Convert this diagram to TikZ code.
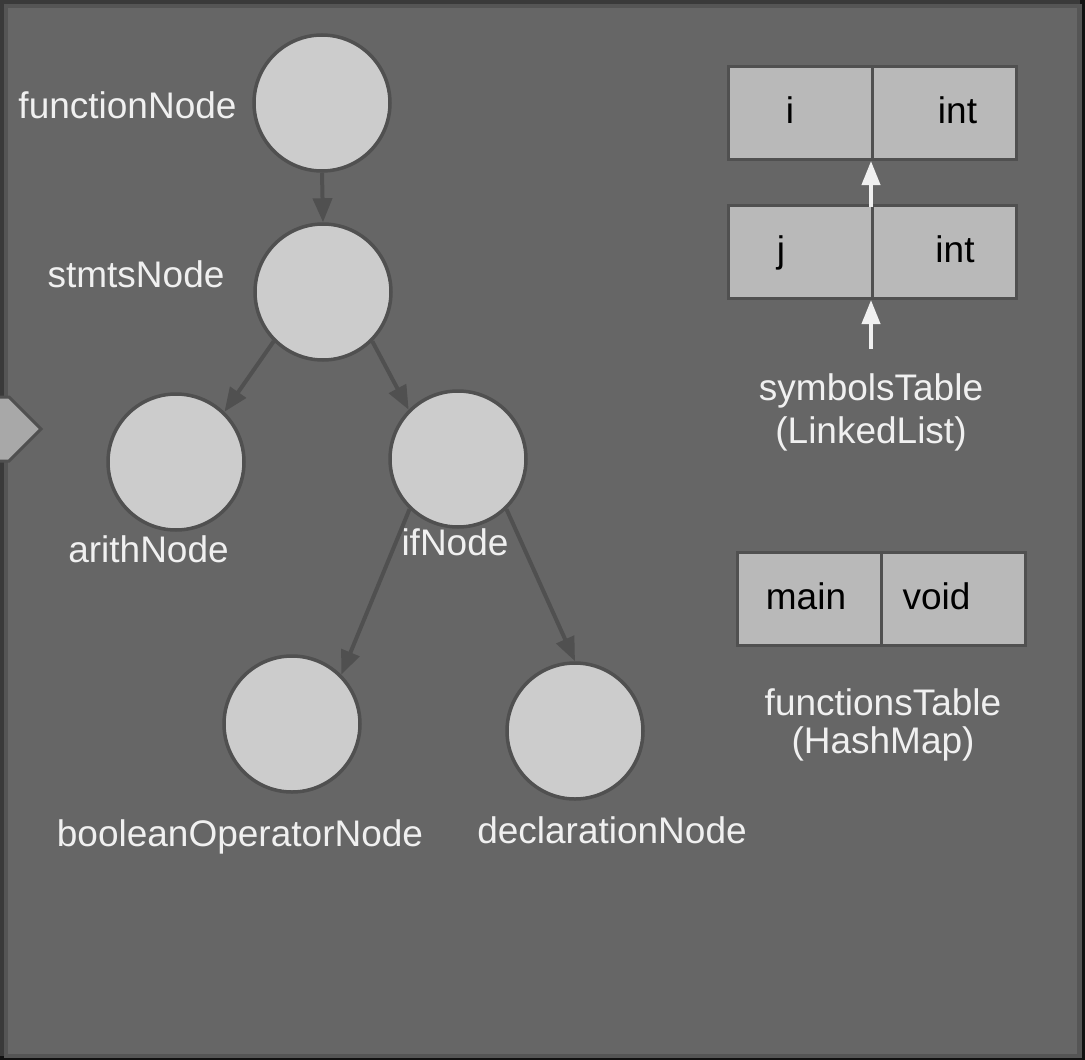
\documentclass[tikz,border=0pt]{standalone}
\usepackage{fontspec}
\setmainfont{Liberation Sans}
\usetikzlibrary{arrows.meta}

\definecolor{frameDark}{HTML}{3A3A3A}
\definecolor{frameMid}{HTML}{555555}
\definecolor{frameEdge}{HTML}{111111}
\definecolor{panelGray}{HTML}{666666}
\definecolor{edgeGray}{HTML}{505050}
\definecolor{nodeFill}{HTML}{CCCCCC}
\definecolor{cellFill}{HTML}{B9B9B9}
\definecolor{tabFill}{HTML}{A8A8A8}
\definecolor{labelWhite}{HTML}{F0F0F0}

\begin{document}
\begin{tikzpicture}[x=1pt,y=-1pt,
  txt/.style={font=\fontsize{37}{44}\selectfont, anchor=base, inner sep=0pt},
  lbl/.style={txt, text=labelWhite},
  cellTxt/.style={txt, text=black},
  treeNode/.style={circle, draw=edgeGray, line width=3.5pt, fill=nodeFill,
    minimum size=136pt, inner sep=0pt},
  cell/.style={rectangle, draw=edgeGray, line width=3pt, fill=cellFill,
    minimum width=144pt, minimum height=93pt, inner sep=0pt, anchor=north west},
  treeArrow/.style={draw=edgeGray, line width=4pt,
    -{Triangle[length=24pt,width=19pt]}},
  listArrow/.style={draw=labelWhite, line width=4pt,
    -{Triangle[length=24pt,width=18pt]}}]

  % frame and panel
  \useasboundingbox (0,0) rectangle (1085,1060);
  \fill[frameDark] (0,0) rectangle (1085,1060);
  \fill[frameEdge] (1080,0) rectangle (1085,1060);
  \fill[frameEdge] (0,1056) rectangle (1085,1060);
  \fill[frameMid] (4,4) rectangle (1082,1058);
  \fill[panelGray] (8,8) rectangle (1077,1054);

  % side tab
  \filldraw[fill=tabFill, draw=edgeGray, line width=3pt]
    (-3,397) -- (9,397) -- (41,429) -- (9,461) -- (-3,461) -- cycle;

  % tree nodes
  \node[treeNode] (fn)   at (322,103) {};
  \node[treeNode] (st)   at (323,292) {};
  \node[treeNode] (ar)   at (176,462) {};
  \node[treeNode] (ifn)  at (458,459) {};
  \node[treeNode] (bo)   at (292,724) {};
  \node[treeNode] (de)   at (575,731) {};

  % tree labels
  \node[lbl] (fnL) at (127.5,118) {functionNode};
  \node[lbl] (stL) at (136,287) {stmtsNode};
  \node[lbl] (arL) at (148.5,562) {arithNode};
  \node[lbl] (ifL) at (455,555) {ifNode};
  \node[lbl] (boL) at (240,846) {booleanOperatorNode};
  \node[lbl] (deL) at (612,843) {declarationNode};

  % tree edges
  \draw[treeArrow] (fn.south) -- (st.north);
  \draw[treeArrow] (st.225) -- (ar.46);
  \draw[treeArrow] (st.315) -- (ifn.135);
  \draw[treeArrow] (ifn.226) -- (bo.45);
  \draw[treeArrow] (ifn.314) -- (de.90);

  % symbols table (linked list)
  \node[cell] (iKey)  at (727,65)  {};
  \node[cell] (iType) at (871,65)  {};
  \node[cell] (jKey)  at (727,204) {};
  \node[cell] (jType) at (871,204) {};
  \node[cellTxt] (iKeyT)  at (790,123) {i};
  \node[cellTxt] (iTypeT) at (957.5,123) {int};
  \node[cellTxt] (jKeyT)  at (781,262) {j};
  \node[cellTxt] (jTypeT) at (955,262) {int};

  \coordinate (symHead) at (871,349);
  \draw[listArrow] ([yshift=-3pt]jType.north west) -- (iType.south west);
  \draw[listArrow] (symHead) -- (jType.south west);

  \node[lbl] (symL1) at (871,400) {symbolsTable};
  \node[lbl] (symL2) at (871,443) {(LinkedList)};

  % functions table (hash map)
  \node[cell] (fKey)  at (736,551) {};
  \node[cell] (fType) at (880,551) {};
  \node[cellTxt] (fKeyT)  at (806,609) {main};
  \node[cellTxt] (fTypeT) at (936.5,609) {void};

  \node[lbl] (funL1) at (883,715) {functionsTable};
  \node[lbl] (funL2) at (883,753) {(HashMap)};
\end{tikzpicture}
\end{document}
